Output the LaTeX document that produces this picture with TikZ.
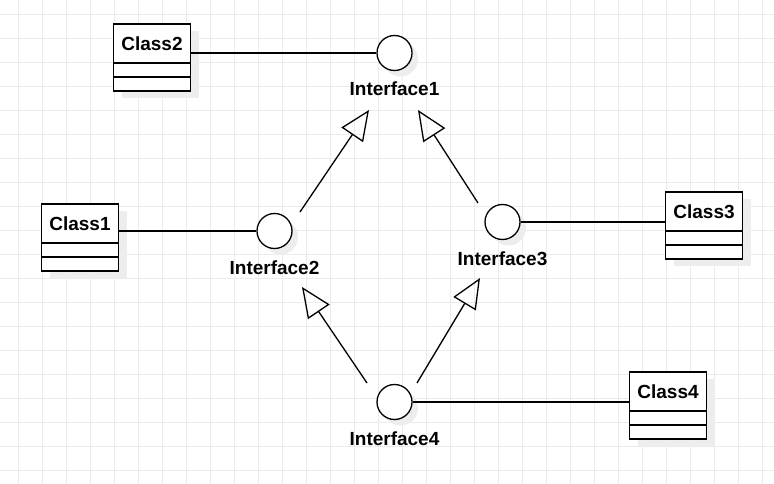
\documentclass[tikz,border=0pt]{standalone}
\usepackage{fontspec}
\setmainfont{Liberation Sans}
\usetikzlibrary{arrows.meta,positioning}
\pgfdeclarelayer{bg}
\pgfdeclarelayer{shade}
\pgfsetlayers{bg,shade,main}
\tikzset{
  x=1pt, y=-1pt,
  gridline/.style={draw=black!8, line width=0.8pt},
  classhead/.style={draw, fill=white, line width=1.3pt, minimum width=77pt, minimum height=39pt, inner sep=0pt, outer sep=0pt, font=\fontsize{19}{21}\selectfont\bfseries},
  classrow/.style={draw, fill=white, line width=1.3pt, minimum width=77pt, minimum height=14pt, inner sep=0pt, outer sep=0pt},
  iface/.style={circle, draw, fill=white, line width=1.3pt, minimum size=35pt, inner sep=0pt},
  ilabel/.style={anchor=base, inner sep=0pt, font=\fontsize{19}{21}\selectfont\bfseries},
  conn/.style={line width=1.3pt},
  realize/.style={line width=1.3pt, -{Triangle[open, length=30pt, width=26pt, line width=1.3pt]}},
  shadowc/.style={fill=black!7},
}
\begin{document}
\begin{tikzpicture}
\useasboundingbox (0,0) rectangle (774,484);
\begin{pgfonlayer}{bg}
  \fill[white] (0,0) rectangle (774,484);
  \foreach \gx in {18,42,...,774} { \draw[gridline] (\gx,0) -- (\gx,484); }
  \foreach \gy in {14,38,...,484} { \draw[gridline] (0,\gy) -- (774,\gy); }
\end{pgfonlayer}

% classes
\node[classhead] (c2) at (152,43.5) {Class2};
\node[classrow, below=0pt of c2] (c2a) {};
\node[classrow, below=0pt of c2a] (c2b) {};

\node[classhead] (c1) at (80,223.5) {Class1};
\node[classrow, below=0pt of c1] (c1a) {};
\node[classrow, below=0pt of c1a] (c1b) {};

\node[classhead] (c3) at (704,211.5) {Class3};
\node[classrow, below=0pt of c3] (c3a) {};
\node[classrow, below=0pt of c3a] (c3b) {};

\node[classhead] (c4) at (668,391.5) {Class4};
\node[classrow, below=0pt of c4] (c4a) {};
\node[classrow, below=0pt of c4a] (c4b) {};

% interfaces
\node[iface] (i1) at (394.5,53) {};
\node[iface] (i2) at (274.5,231) {};
\node[iface] (i3) at (502.5,222) {};
\node[iface] (i4) at (394.5,402) {};

\node[ilabel] (l1) at (394.5,96) {Interface1};
\node[ilabel] (l2) at (274.5,274) {Interface2};
\node[ilabel] (l3) at (502.5,265) {Interface3};
\node[ilabel] (l4) at (394.5,445) {Interface4};

% shadows
\begin{pgfonlayer}{shade}
  \foreach \c/\d in {c1/c1b,c2/c2b,c3/c3b,c4/c4b} {
    \fill[shadowc] ([shift={(8,7)}]\c.north west) rectangle ([shift={(8,7)}]\d.south east);
  }
  \foreach \i in {i1,i2,i3,i4} {
    \fill[shadowc] ([shift={(6,6)}]\i.center) circle (17.5);
  }
\end{pgfonlayer}

% associations
\draw[conn] (c2.east |- i1.west) -- (i1.west);
\draw[conn] (c1.east |- i2.west) -- (i2.west);
\draw[conn] (i3.east) -- (i3.east -| c3.west);
\draw[conn] (i4.east) -- (i4.east -| c4.west);

% realizations
\coordinate (s21) at (300,212);
\coordinate (t21) at (369,110);
\coordinate (s31) at (478,203);
\coordinate (t31) at (418,110);
\coordinate (s42) at (367,383);
\coordinate (t42) at (302,287);
\coordinate (s43) at (417,383);
\coordinate (t43) at (480,278);
\draw[realize] (s21) -- (t21);
\draw[realize] (s31) -- (t31);
\draw[realize] (s42) -- (t42);
\draw[realize] (s43) -- (t43);
\end{tikzpicture}
\end{document}
